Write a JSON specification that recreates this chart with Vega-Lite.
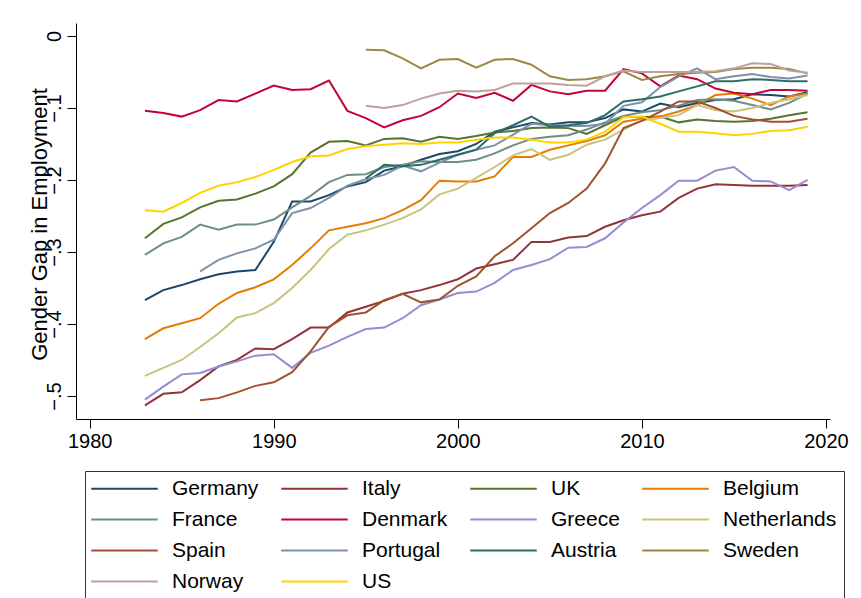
{
"$schema": "https://vega.github.io/schema/vega-lite/v6.json",
"width": 754, "height": 396,
"autosize": {"type": "none"},
"padding": {"left": 76, "top": 23, "right": 31, "bottom": 179},
"background": "white",
"config": {"font": "Liberation Sans", "view": {"stroke": null}},
"datasets": {"gap": [
{"c":"Germany","t":1983,"v":-0.367},{"c":"Germany","t":1984,"v":-0.353},{"c":"Germany","t":1985,"v":-0.346},{"c":"Germany","t":1986,"v":-0.338},{"c":"Germany","t":1987,"v":-0.331},{"c":"Germany","t":1988,"v":-0.327},{"c":"Germany","t":1989,"v":-0.325},{"c":"Germany","t":1990,"v":-0.286},{"c":"Germany","t":1991,"v":-0.230},{"c":"Germany","t":1992,"v":-0.230},{"c":"Germany","t":1993,"v":-0.221},{"c":"Germany","t":1994,"v":-0.209},{"c":"Germany","t":1995,"v":-0.203},{"c":"Germany","t":1996,"v":-0.187},{"c":"Germany","t":1997,"v":-0.181},{"c":"Germany","t":1998,"v":-0.172},{"c":"Germany","t":1999,"v":-0.164},{"c":"Germany","t":2000,"v":-0.160},{"c":"Germany","t":2001,"v":-0.150},{"c":"Germany","t":2002,"v":-0.133},{"c":"Germany","t":2003,"v":-0.127},{"c":"Germany","t":2004,"v":-0.121},{"c":"Germany","t":2005,"v":-0.123},{"c":"Germany","t":2006,"v":-0.120},{"c":"Germany","t":2007,"v":-0.120},{"c":"Germany","t":2008,"v":-0.114},{"c":"Germany","t":2009,"v":-0.102},{"c":"Germany","t":2010,"v":-0.105},{"c":"Germany","t":2011,"v":-0.094},{"c":"Germany","t":2012,"v":-0.099},{"c":"Germany","t":2013,"v":-0.093},{"c":"Germany","t":2014,"v":-0.089},{"c":"Germany","t":2015,"v":-0.088},{"c":"Germany","t":2016,"v":-0.081},{"c":"Germany","t":2017,"v":-0.082},{"c":"Germany","t":2018,"v":-0.084},{"c":"Germany","t":2019,"v":-0.078},
{"c":"Italy","t":1983,"v":-0.513},{"c":"Italy","t":1984,"v":-0.497},{"c":"Italy","t":1985,"v":-0.495},{"c":"Italy","t":1986,"v":-0.478},{"c":"Italy","t":1987,"v":-0.459},{"c":"Italy","t":1988,"v":-0.450},{"c":"Italy","t":1989,"v":-0.434},{"c":"Italy","t":1990,"v":-0.435},{"c":"Italy","t":1991,"v":-0.421},{"c":"Italy","t":1992,"v":-0.405},{"c":"Italy","t":1993,"v":-0.405},{"c":"Italy","t":1994,"v":-0.384},{"c":"Italy","t":1995,"v":-0.376},{"c":"Italy","t":1996,"v":-0.368},{"c":"Italy","t":1997,"v":-0.358},{"c":"Italy","t":1998,"v":-0.353},{"c":"Italy","t":1999,"v":-0.346},{"c":"Italy","t":2000,"v":-0.338},{"c":"Italy","t":2001,"v":-0.323},{"c":"Italy","t":2002,"v":-0.317},{"c":"Italy","t":2003,"v":-0.311},{"c":"Italy","t":2004,"v":-0.286},{"c":"Italy","t":2005,"v":-0.286},{"c":"Italy","t":2006,"v":-0.280},{"c":"Italy","t":2007,"v":-0.278},{"c":"Italy","t":2008,"v":-0.265},{"c":"Italy","t":2009,"v":-0.256},{"c":"Italy","t":2010,"v":-0.249},{"c":"Italy","t":2011,"v":-0.244},{"c":"Italy","t":2012,"v":-0.225},{"c":"Italy","t":2013,"v":-0.212},{"c":"Italy","t":2014,"v":-0.206},{"c":"Italy","t":2015,"v":-0.207},{"c":"Italy","t":2016,"v":-0.208},{"c":"Italy","t":2017,"v":-0.208},{"c":"Italy","t":2018,"v":-0.208},{"c":"Italy","t":2019,"v":-0.207},
{"c":"UK","t":1983,"v":-0.281},{"c":"UK","t":1984,"v":-0.261},{"c":"UK","t":1985,"v":-0.252},{"c":"UK","t":1986,"v":-0.238},{"c":"UK","t":1987,"v":-0.229},{"c":"UK","t":1988,"v":-0.227},{"c":"UK","t":1989,"v":-0.219},{"c":"UK","t":1990,"v":-0.209},{"c":"UK","t":1991,"v":-0.192},{"c":"UK","t":1992,"v":-0.162},{"c":"UK","t":1993,"v":-0.147},{"c":"UK","t":1994,"v":-0.146},{"c":"UK","t":1995,"v":-0.152},{"c":"UK","t":1996,"v":-0.143},{"c":"UK","t":1997,"v":-0.142},{"c":"UK","t":1998,"v":-0.147},{"c":"UK","t":1999,"v":-0.140},{"c":"UK","t":2000,"v":-0.143},{"c":"UK","t":2001,"v":-0.139},{"c":"UK","t":2002,"v":-0.134},{"c":"UK","t":2003,"v":-0.132},{"c":"UK","t":2004,"v":-0.128},{"c":"UK","t":2005,"v":-0.127},{"c":"UK","t":2006,"v":-0.128},{"c":"UK","t":2007,"v":-0.136},{"c":"UK","t":2008,"v":-0.124},{"c":"UK","t":2009,"v":-0.112},{"c":"UK","t":2010,"v":-0.113},{"c":"UK","t":2011,"v":-0.112},{"c":"UK","t":2012,"v":-0.120},{"c":"UK","t":2013,"v":-0.116},{"c":"UK","t":2014,"v":-0.118},{"c":"UK","t":2015,"v":-0.119},{"c":"UK","t":2016,"v":-0.118},{"c":"UK","t":2017,"v":-0.115},{"c":"UK","t":2018,"v":-0.110},{"c":"UK","t":2019,"v":-0.106},
{"c":"Belgium","t":1983,"v":-0.421},{"c":"Belgium","t":1984,"v":-0.406},{"c":"Belgium","t":1985,"v":-0.399},{"c":"Belgium","t":1986,"v":-0.392},{"c":"Belgium","t":1987,"v":-0.372},{"c":"Belgium","t":1988,"v":-0.357},{"c":"Belgium","t":1989,"v":-0.349},{"c":"Belgium","t":1990,"v":-0.338},{"c":"Belgium","t":1991,"v":-0.318},{"c":"Belgium","t":1992,"v":-0.295},{"c":"Belgium","t":1993,"v":-0.270},{"c":"Belgium","t":1994,"v":-0.265},{"c":"Belgium","t":1995,"v":-0.260},{"c":"Belgium","t":1996,"v":-0.253},{"c":"Belgium","t":1997,"v":-0.242},{"c":"Belgium","t":1998,"v":-0.228},{"c":"Belgium","t":1999,"v":-0.201},{"c":"Belgium","t":2000,"v":-0.202},{"c":"Belgium","t":2001,"v":-0.202},{"c":"Belgium","t":2002,"v":-0.195},{"c":"Belgium","t":2003,"v":-0.168},{"c":"Belgium","t":2004,"v":-0.168},{"c":"Belgium","t":2005,"v":-0.158},{"c":"Belgium","t":2006,"v":-0.152},{"c":"Belgium","t":2007,"v":-0.146},{"c":"Belgium","t":2008,"v":-0.138},{"c":"Belgium","t":2009,"v":-0.119},{"c":"Belgium","t":2010,"v":-0.115},{"c":"Belgium","t":2011,"v":-0.112},{"c":"Belgium","t":2012,"v":-0.105},{"c":"Belgium","t":2013,"v":-0.096},{"c":"Belgium","t":2014,"v":-0.082},{"c":"Belgium","t":2015,"v":-0.080},{"c":"Belgium","t":2016,"v":-0.087},{"c":"Belgium","t":2017,"v":-0.096},{"c":"Belgium","t":2018,"v":-0.084},{"c":"Belgium","t":2019,"v":-0.080},
{"c":"France","t":1983,"v":-0.304},{"c":"France","t":1984,"v":-0.288},{"c":"France","t":1985,"v":-0.279},{"c":"France","t":1986,"v":-0.262},{"c":"France","t":1987,"v":-0.269},{"c":"France","t":1988,"v":-0.262},{"c":"France","t":1989,"v":-0.262},{"c":"France","t":1990,"v":-0.255},{"c":"France","t":1991,"v":-0.238},{"c":"France","t":1992,"v":-0.222},{"c":"France","t":1993,"v":-0.203},{"c":"France","t":1994,"v":-0.193},{"c":"France","t":1995,"v":-0.192},{"c":"France","t":1996,"v":-0.182},{"c":"France","t":1997,"v":-0.179},{"c":"France","t":1998,"v":-0.174},{"c":"France","t":1999,"v":-0.175},{"c":"France","t":2000,"v":-0.175},{"c":"France","t":2001,"v":-0.172},{"c":"France","t":2002,"v":-0.163},{"c":"France","t":2003,"v":-0.152},{"c":"France","t":2004,"v":-0.143},{"c":"France","t":2005,"v":-0.140},{"c":"France","t":2006,"v":-0.138},{"c":"France","t":2007,"v":-0.130},{"c":"France","t":2008,"v":-0.120},{"c":"France","t":2009,"v":-0.111},{"c":"France","t":2010,"v":-0.106},{"c":"France","t":2011,"v":-0.103},{"c":"France","t":2012,"v":-0.097},{"c":"France","t":2013,"v":-0.089},{"c":"France","t":2014,"v":-0.088},{"c":"France","t":2015,"v":-0.090},{"c":"France","t":2016,"v":-0.096},{"c":"France","t":2017,"v":-0.102},{"c":"France","t":2018,"v":-0.093},{"c":"France","t":2019,"v":-0.080},
{"c":"Denmark","t":1983,"v":-0.104},{"c":"Denmark","t":1984,"v":-0.107},{"c":"Denmark","t":1985,"v":-0.112},{"c":"Denmark","t":1986,"v":-0.103},{"c":"Denmark","t":1987,"v":-0.089},{"c":"Denmark","t":1988,"v":-0.091},{"c":"Denmark","t":1989,"v":-0.080},{"c":"Denmark","t":1990,"v":-0.069},{"c":"Denmark","t":1991,"v":-0.075},{"c":"Denmark","t":1992,"v":-0.074},{"c":"Denmark","t":1993,"v":-0.062},{"c":"Denmark","t":1994,"v":-0.104},{"c":"Denmark","t":1995,"v":-0.114},{"c":"Denmark","t":1996,"v":-0.127},{"c":"Denmark","t":1997,"v":-0.117},{"c":"Denmark","t":1998,"v":-0.111},{"c":"Denmark","t":1999,"v":-0.099},{"c":"Denmark","t":2000,"v":-0.080},{"c":"Denmark","t":2001,"v":-0.086},{"c":"Denmark","t":2002,"v":-0.079},{"c":"Denmark","t":2003,"v":-0.090},{"c":"Denmark","t":2004,"v":-0.068},{"c":"Denmark","t":2005,"v":-0.077},{"c":"Denmark","t":2006,"v":-0.081},{"c":"Denmark","t":2007,"v":-0.076},{"c":"Denmark","t":2008,"v":-0.076},{"c":"Denmark","t":2009,"v":-0.046},{"c":"Denmark","t":2010,"v":-0.052},{"c":"Denmark","t":2011,"v":-0.070},{"c":"Denmark","t":2012,"v":-0.055},{"c":"Denmark","t":2013,"v":-0.060},{"c":"Denmark","t":2014,"v":-0.073},{"c":"Denmark","t":2015,"v":-0.079},{"c":"Denmark","t":2016,"v":-0.081},{"c":"Denmark","t":2017,"v":-0.075},{"c":"Denmark","t":2018,"v":-0.075},{"c":"Denmark","t":2019,"v":-0.076},
{"c":"Greece","t":1983,"v":-0.505},{"c":"Greece","t":1984,"v":-0.487},{"c":"Greece","t":1985,"v":-0.470},{"c":"Greece","t":1986,"v":-0.468},{"c":"Greece","t":1987,"v":-0.459},{"c":"Greece","t":1988,"v":-0.452},{"c":"Greece","t":1989,"v":-0.444},{"c":"Greece","t":1990,"v":-0.442},{"c":"Greece","t":1991,"v":-0.461},{"c":"Greece","t":1992,"v":-0.440},{"c":"Greece","t":1993,"v":-0.430},{"c":"Greece","t":1994,"v":-0.418},{"c":"Greece","t":1995,"v":-0.407},{"c":"Greece","t":1996,"v":-0.405},{"c":"Greece","t":1997,"v":-0.392},{"c":"Greece","t":1998,"v":-0.374},{"c":"Greece","t":1999,"v":-0.366},{"c":"Greece","t":2000,"v":-0.357},{"c":"Greece","t":2001,"v":-0.355},{"c":"Greece","t":2002,"v":-0.343},{"c":"Greece","t":2003,"v":-0.325},{"c":"Greece","t":2004,"v":-0.318},{"c":"Greece","t":2005,"v":-0.310},{"c":"Greece","t":2006,"v":-0.294},{"c":"Greece","t":2007,"v":-0.293},{"c":"Greece","t":2008,"v":-0.281},{"c":"Greece","t":2009,"v":-0.259},{"c":"Greece","t":2010,"v":-0.239},{"c":"Greece","t":2011,"v":-0.221},{"c":"Greece","t":2012,"v":-0.201},{"c":"Greece","t":2013,"v":-0.201},{"c":"Greece","t":2014,"v":-0.187},{"c":"Greece","t":2015,"v":-0.182},{"c":"Greece","t":2016,"v":-0.201},{"c":"Greece","t":2017,"v":-0.202},{"c":"Greece","t":2018,"v":-0.214},{"c":"Greece","t":2019,"v":-0.200},
{"c":"Netherlands","t":1983,"v":-0.472},{"c":"Netherlands","t":1984,"v":-0.461},{"c":"Netherlands","t":1985,"v":-0.450},{"c":"Netherlands","t":1986,"v":-0.432},{"c":"Netherlands","t":1987,"v":-0.413},{"c":"Netherlands","t":1988,"v":-0.391},{"c":"Netherlands","t":1989,"v":-0.385},{"c":"Netherlands","t":1990,"v":-0.371},{"c":"Netherlands","t":1991,"v":-0.350},{"c":"Netherlands","t":1992,"v":-0.325},{"c":"Netherlands","t":1993,"v":-0.296},{"c":"Netherlands","t":1994,"v":-0.276},{"c":"Netherlands","t":1995,"v":-0.270},{"c":"Netherlands","t":1996,"v":-0.262},{"c":"Netherlands","t":1997,"v":-0.253},{"c":"Netherlands","t":1998,"v":-0.241},{"c":"Netherlands","t":1999,"v":-0.220},{"c":"Netherlands","t":2000,"v":-0.212},{"c":"Netherlands","t":2001,"v":-0.197},{"c":"Netherlands","t":2002,"v":-0.182},{"c":"Netherlands","t":2003,"v":-0.166},{"c":"Netherlands","t":2004,"v":-0.157},{"c":"Netherlands","t":2005,"v":-0.172},{"c":"Netherlands","t":2006,"v":-0.165},{"c":"Netherlands","t":2007,"v":-0.151},{"c":"Netherlands","t":2008,"v":-0.144},{"c":"Netherlands","t":2009,"v":-0.130},{"c":"Netherlands","t":2010,"v":-0.117},{"c":"Netherlands","t":2011,"v":-0.114},{"c":"Netherlands","t":2012,"v":-0.110},{"c":"Netherlands","t":2013,"v":-0.096},{"c":"Netherlands","t":2014,"v":-0.103},{"c":"Netherlands","t":2015,"v":-0.105},{"c":"Netherlands","t":2016,"v":-0.100},{"c":"Netherlands","t":2017,"v":-0.093},{"c":"Netherlands","t":2018,"v":-0.088},{"c":"Netherlands","t":2019,"v":-0.082},
{"c":"Spain","t":1986,"v":-0.506},{"c":"Spain","t":1987,"v":-0.503},{"c":"Spain","t":1988,"v":-0.495},{"c":"Spain","t":1989,"v":-0.486},{"c":"Spain","t":1990,"v":-0.481},{"c":"Spain","t":1991,"v":-0.467},{"c":"Spain","t":1992,"v":-0.438},{"c":"Spain","t":1993,"v":-0.404},{"c":"Spain","t":1994,"v":-0.388},{"c":"Spain","t":1995,"v":-0.384},{"c":"Spain","t":1996,"v":-0.367},{"c":"Spain","t":1997,"v":-0.358},{"c":"Spain","t":1998,"v":-0.370},{"c":"Spain","t":1999,"v":-0.366},{"c":"Spain","t":2000,"v":-0.347},{"c":"Spain","t":2001,"v":-0.334},{"c":"Spain","t":2002,"v":-0.306},{"c":"Spain","t":2003,"v":-0.288},{"c":"Spain","t":2004,"v":-0.267},{"c":"Spain","t":2005,"v":-0.246},{"c":"Spain","t":2006,"v":-0.232},{"c":"Spain","t":2007,"v":-0.212},{"c":"Spain","t":2008,"v":-0.177},{"c":"Spain","t":2009,"v":-0.128},{"c":"Spain","t":2010,"v":-0.118},{"c":"Spain","t":2011,"v":-0.105},{"c":"Spain","t":2012,"v":-0.091},{"c":"Spain","t":2013,"v":-0.091},{"c":"Spain","t":2014,"v":-0.100},{"c":"Spain","t":2015,"v":-0.111},{"c":"Spain","t":2016,"v":-0.116},{"c":"Spain","t":2017,"v":-0.119},{"c":"Spain","t":2018,"v":-0.119},{"c":"Spain","t":2019,"v":-0.115},
{"c":"Portugal","t":1986,"v":-0.327},{"c":"Portugal","t":1987,"v":-0.311},{"c":"Portugal","t":1988,"v":-0.302},{"c":"Portugal","t":1989,"v":-0.295},{"c":"Portugal","t":1990,"v":-0.283},{"c":"Portugal","t":1991,"v":-0.246},{"c":"Portugal","t":1992,"v":-0.239},{"c":"Portugal","t":1993,"v":-0.225},{"c":"Portugal","t":1994,"v":-0.208},{"c":"Portugal","t":1995,"v":-0.199},{"c":"Portugal","t":1996,"v":-0.193},{"c":"Portugal","t":1997,"v":-0.180},{"c":"Portugal","t":1998,"v":-0.188},{"c":"Portugal","t":1999,"v":-0.176},{"c":"Portugal","t":2000,"v":-0.165},{"c":"Portugal","t":2001,"v":-0.158},{"c":"Portugal","t":2002,"v":-0.152},{"c":"Portugal","t":2003,"v":-0.137},{"c":"Portugal","t":2004,"v":-0.122},{"c":"Portugal","t":2005,"v":-0.124},{"c":"Portugal","t":2006,"v":-0.125},{"c":"Portugal","t":2007,"v":-0.125},{"c":"Portugal","t":2008,"v":-0.122},{"c":"Portugal","t":2009,"v":-0.097},{"c":"Portugal","t":2010,"v":-0.092},{"c":"Portugal","t":2011,"v":-0.071},{"c":"Portugal","t":2012,"v":-0.056},{"c":"Portugal","t":2013,"v":-0.045},{"c":"Portugal","t":2014,"v":-0.060},{"c":"Portugal","t":2015,"v":-0.056},{"c":"Portugal","t":2016,"v":-0.053},{"c":"Portugal","t":2017,"v":-0.057},{"c":"Portugal","t":2018,"v":-0.059},{"c":"Portugal","t":2019,"v":-0.055},
{"c":"Austria","t":1995,"v":-0.198},{"c":"Austria","t":1996,"v":-0.179},{"c":"Austria","t":1997,"v":-0.181},{"c":"Austria","t":1998,"v":-0.179},{"c":"Austria","t":1999,"v":-0.172},{"c":"Austria","t":2000,"v":-0.165},{"c":"Austria","t":2001,"v":-0.158},{"c":"Austria","t":2002,"v":-0.135},{"c":"Austria","t":2003,"v":-0.124},{"c":"Austria","t":2004,"v":-0.112},{"c":"Austria","t":2005,"v":-0.126},{"c":"Austria","t":2006,"v":-0.124},{"c":"Austria","t":2007,"v":-0.121},{"c":"Austria","t":2008,"v":-0.110},{"c":"Austria","t":2009,"v":-0.091},{"c":"Austria","t":2010,"v":-0.088},{"c":"Austria","t":2011,"v":-0.084},{"c":"Austria","t":2012,"v":-0.077},{"c":"Austria","t":2013,"v":-0.070},{"c":"Austria","t":2014,"v":-0.063},{"c":"Austria","t":2015,"v":-0.063},{"c":"Austria","t":2016,"v":-0.060},{"c":"Austria","t":2017,"v":-0.061},{"c":"Austria","t":2018,"v":-0.063},{"c":"Austria","t":2019,"v":-0.063},
{"c":"Sweden","t":1995,"v":-0.019},{"c":"Sweden","t":1996,"v":-0.020},{"c":"Sweden","t":1997,"v":-0.031},{"c":"Sweden","t":1998,"v":-0.045},{"c":"Sweden","t":1999,"v":-0.033},{"c":"Sweden","t":2000,"v":-0.032},{"c":"Sweden","t":2001,"v":-0.044},{"c":"Sweden","t":2002,"v":-0.033},{"c":"Sweden","t":2003,"v":-0.032},{"c":"Sweden","t":2004,"v":-0.040},{"c":"Sweden","t":2005,"v":-0.056},{"c":"Sweden","t":2006,"v":-0.061},{"c":"Sweden","t":2007,"v":-0.060},{"c":"Sweden","t":2008,"v":-0.056},{"c":"Sweden","t":2009,"v":-0.049},{"c":"Sweden","t":2010,"v":-0.061},{"c":"Sweden","t":2011,"v":-0.056},{"c":"Sweden","t":2012,"v":-0.053},{"c":"Sweden","t":2013,"v":-0.051},{"c":"Sweden","t":2014,"v":-0.050},{"c":"Sweden","t":2015,"v":-0.046},{"c":"Sweden","t":2016,"v":-0.044},{"c":"Sweden","t":2017,"v":-0.044},{"c":"Sweden","t":2018,"v":-0.046},{"c":"Sweden","t":2019,"v":-0.052},
{"c":"Norway","t":1995,"v":-0.097},{"c":"Norway","t":1996,"v":-0.100},{"c":"Norway","t":1997,"v":-0.096},{"c":"Norway","t":1998,"v":-0.087},{"c":"Norway","t":1999,"v":-0.080},{"c":"Norway","t":2000,"v":-0.076},{"c":"Norway","t":2001,"v":-0.077},{"c":"Norway","t":2002,"v":-0.075},{"c":"Norway","t":2003,"v":-0.066},{"c":"Norway","t":2004,"v":-0.066},{"c":"Norway","t":2005,"v":-0.066},{"c":"Norway","t":2006,"v":-0.068},{"c":"Norway","t":2007,"v":-0.069},{"c":"Norway","t":2008,"v":-0.056},{"c":"Norway","t":2009,"v":-0.048},{"c":"Norway","t":2010,"v":-0.050},{"c":"Norway","t":2011,"v":-0.050},{"c":"Norway","t":2012,"v":-0.050},{"c":"Norway","t":2013,"v":-0.050},{"c":"Norway","t":2014,"v":-0.049},{"c":"Norway","t":2015,"v":-0.045},{"c":"Norway","t":2016,"v":-0.038},{"c":"Norway","t":2017,"v":-0.039},{"c":"Norway","t":2018,"v":-0.048},{"c":"Norway","t":2019,"v":-0.051},
{"c":"US","t":1983,"v":-0.242},{"c":"US","t":1984,"v":-0.244},{"c":"US","t":1985,"v":-0.232},{"c":"US","t":1986,"v":-0.218},{"c":"US","t":1987,"v":-0.208},{"c":"US","t":1988,"v":-0.203},{"c":"US","t":1989,"v":-0.196},{"c":"US","t":1990,"v":-0.186},{"c":"US","t":1991,"v":-0.175},{"c":"US","t":1992,"v":-0.167},{"c":"US","t":1993,"v":-0.166},{"c":"US","t":1994,"v":-0.157},{"c":"US","t":1995,"v":-0.153},{"c":"US","t":1996,"v":-0.151},{"c":"US","t":1997,"v":-0.149},{"c":"US","t":1998,"v":-0.150},{"c":"US","t":1999,"v":-0.148},{"c":"US","t":2000,"v":-0.148},{"c":"US","t":2001,"v":-0.144},{"c":"US","t":2002,"v":-0.141},{"c":"US","t":2003,"v":-0.141},{"c":"US","t":2004,"v":-0.144},{"c":"US","t":2005,"v":-0.148},{"c":"US","t":2006,"v":-0.148},{"c":"US","t":2007,"v":-0.144},{"c":"US","t":2008,"v":-0.133},{"c":"US","t":2009,"v":-0.113},{"c":"US","t":2010,"v":-0.112},{"c":"US","t":2011,"v":-0.122},{"c":"US","t":2012,"v":-0.133},{"c":"US","t":2013,"v":-0.133},{"c":"US","t":2014,"v":-0.135},{"c":"US","t":2015,"v":-0.138},{"c":"US","t":2016,"v":-0.136},{"c":"US","t":2017,"v":-0.132},{"c":"US","t":2018,"v":-0.131},{"c":"US","t":2019,"v":-0.126}
]},
"data": {"name": "gap"},
"mark": {"type": "line", "strokeWidth": 2},
"encoding": {
  "x": {"field": "t", "type": "quantitative",
    "scale": {"domain": [1979.256, 2020.22], "nice": false, "zero": false},
    "axis": {"values": [1980, 1990, 2000, 2010, 2020], "format": "d", "title": null, "grid": false,
      "domainColor": "#000", "tickColor": "#000", "tickSize": 9, "labelFontSize": 20, "labelColor": "#000",
      "labelPadding": 3, "labelFlush": false, "labelOverlap": false}},
  "y": {"field": "v", "type": "quantitative",
    "scale": {"domain": [-0.532, 0.018], "nice": false, "zero": false},
    "axis": {"values": [-0.5, -0.4, -0.3, -0.2, -0.1, 0],
      "labelExpr": "datum.value == 0 ? '0' : replace(format(datum.value, '.1f'), '0.', '.')",
      "title": "Gender Gap in Employment", "titleFontSize": 22, "titleFontWeight": "normal", "titleColor": "#000",
      "titleX": -30, "titleY": 201, "titleAngle": -90, "titleAlign": "center", "titleBaseline": "alphabetic",
      "labelAngle": -90, "labelAlign": "center", "labelBaseline": "alphabetic", "tickSize": 9, "labelPadding": 7,
      "labelFontSize": 20, "labelColor": "#000", "grid": false, "domainColor": "#000", "tickColor": "#000",
      "labelOverlap": false, "labelFlush": false}},
  "color": {"field": "c", "type": "nominal",
    "scale": {"domain": ["Germany","Italy","UK","Belgium","France","Denmark","Greece","Netherlands","Spain","Portugal","Austria","Sweden","Norway","US"],
      "range": ["#1a476f","#90353b","#55752f","#e37e00","#6e8e84","#c10534","#938dd2","#cac27e","#a0522d","#7b92a8","#2d6d66","#9c8847","#bfa19c","#ffd200"]},
    "legend": {"orient": "none", "legendX": 9, "legendY": 448, "columns": 4, "direction": "horizontal", "title": null,
      "symbolType": "M-3.5,0H3.5", "symbolSize": 361, "symbolOffset": 22, "symbolStrokeWidth": 2,
      "labelFontSize": 21, "labelColor": "#000", "labelOffset": 37, "labelLimit": 400,
      "columnPadding": 18, "rowPadding": 9, "padding": 7, "strokeColor": "#333", "fillColor": "white"}}
}
}
